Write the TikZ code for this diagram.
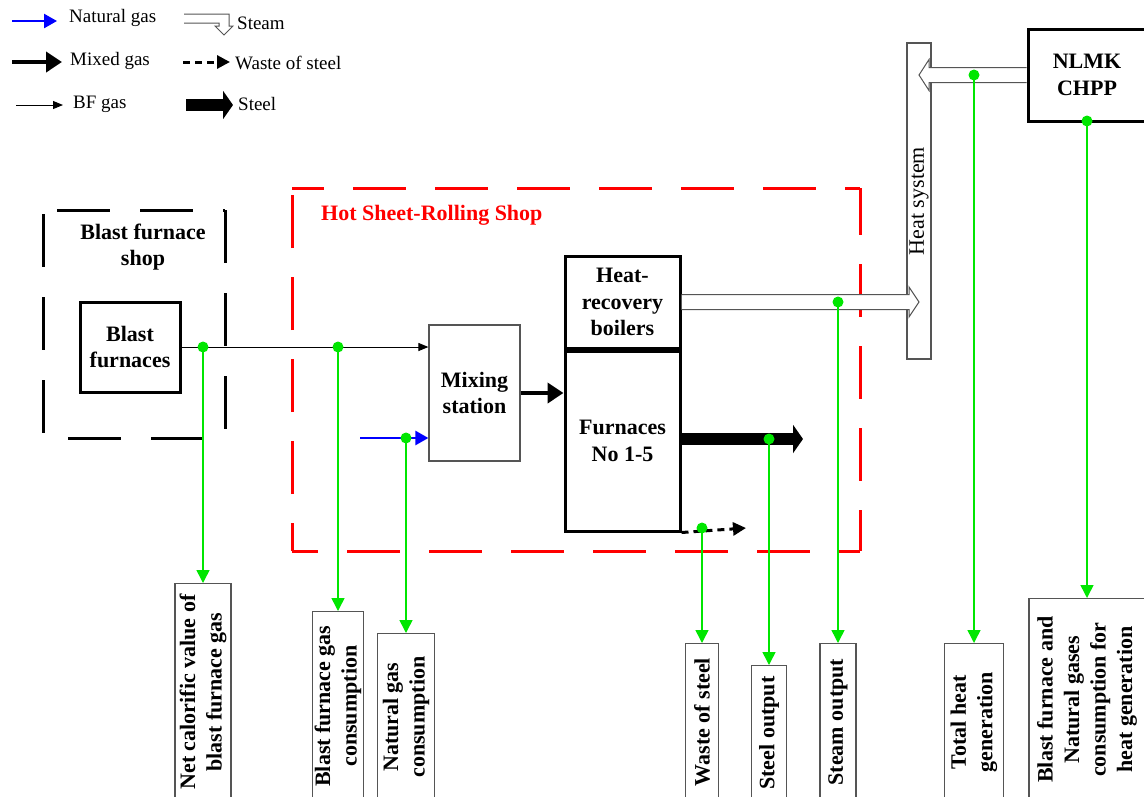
\documentclass[tikz,border=0pt]{standalone}
\usepackage{fontspec}
\setmainfont{Liberation Serif}
\usetikzlibrary{arrows.meta,calc,positioning}
\definecolor{natgas}{RGB}{0,0,255}
\definecolor{meter}{RGB}{0,230,0}
\definecolor{shopred}{RGB}{255,0,0}
\definecolor{frame}{RGB}{85,85,85}

\begin{document}
\begin{tikzpicture}[x=1pt,y=-1pt,
  unit/.style={draw,line width=3pt,align=center,inner sep=0pt,font=\bfseries\fontsize{22}{26.5}\selectfont},
  plainbox/.style={draw=frame,line width=1.2pt,align=center,inner sep=0pt,font=\bfseries\fontsize{22}{26.5}\selectfont},
  outbox/.style={plainbox,fill=white,rotate=90,anchor=east},
  legtext/.style={anchor=west,inner sep=0pt,font=\fontsize{19}{22}\selectfont},
  bfshopline/.style={line width=3pt,dash pattern=on 53pt off 30pt},
  hsrsline/.style={draw=shopred,line width=3pt,dash pattern=on 53pt off 29pt},
  bfgas/.style={line width=1pt,-{Triangle[length=10pt,width=8pt]}},
  ngarrow/.style={draw=natgas,line width=2.5pt,-{Triangle[length=13pt,width=14pt]}},
  mixarrow/.style={line width=4.5pt,-{Triangle[length=16pt,width=20pt]}},
  steelarrow/.style={line width=12pt,-{Triangle[length=10pt,width=28pt]}},
  wastearrow/.style={line width=3pt,dash pattern=on 7pt off 5pt,-{Triangle[length=13pt,width=13pt]}},
  steam/.style={draw=frame,line width=1pt,fill=white,line join=miter},
  probe/.style={draw=meter,line width=1.5pt,-{Triangle[length=13pt,width=13pt]}},
  dot/.style={circle,fill=meter,inner sep=0pt,minimum size=11pt}]
\useasboundingbox (0,0) rectangle (1144,796);
\clip (0,0) rectangle (1144,796);

% legend
\draw[ngarrow] (12,21) -- (57,21);
\node[legtext] (lng) at (69,18) {Natural gas};
\draw[mixarrow] (12,62) -- (62,62);
\node[legtext] (lmix) at (70,61) {Mixed gas};
\draw[bfgas] (16,105) -- (63,105);
\node[legtext] (lbf) at (73,104) {BF gas};
\draw[steam] (184,14) -- (229,14) -- (229,26) -- (233,26) -- (224,35) -- (215,26) -- (219,26) -- (219,23) -- (184,23);
\node[legtext] (lsteam) at (237,23) {Steam};
\draw[wastearrow] (183,62) -- (230,62);
\node[legtext] (lwaste) at (235,63) {Waste of steel};
\draw[steelarrow] (186,105) -- (233,105);
\node[legtext] (lsteel) at (238,104) {Steel};

% shops
\draw[bfshopline,dash phase=69pt] (43,210) -- (225,210);
\draw[bfshopline,dash phase=79pt] (43,210) -- (43,438);
\draw[bfshopline,dash phase=0pt] (225,210) -- (225,438);
\draw[bfshopline,dash phase=58pt] (43,438) -- (225,438);
\node[align=center,font=\bfseries\fontsize{22}{26.5}\selectfont] (bfshop) at (143,247) {Blast furnace\\shop};
\draw[hsrsline,dash phase=21pt] (292,188) -- (860,188);
\draw[hsrsline,dash phase=25pt] (292,551) -- (292,188);
\draw[hsrsline,dash phase=6pt] (860,188) -- (860,551);
\draw[hsrsline,dash phase=27pt] (292,551) -- (860,551);
\node[anchor=west,inner sep=0pt,text=shopred,font=\bfseries\fontsize{22}{26.5}\selectfont] (hsrs) at (321,215) {Hot Sheet-Rolling Shop};

% units
\node[unit,minimum width=100pt,minimum height=90pt] (bf) at (130,347) {Blast\\furnaces};
\node[plainbox,minimum width=91pt,minimum height=136pt] (mix) at (474.5,393) {Mixing\\station};
\node[unit,minimum width=115pt,minimum height=92pt] (hrb) at (622.5,302) {Heat-\\recovery\\boilers};
\node[unit,minimum width=115pt,minimum height=180pt,anchor=north] (furn) at (hrb.south) {Furnaces\\No 1-5};
\node[plainbox,font=\fontsize{22}{26.5}\selectfont,rotate=90,minimum width=316pt,minimum height=24pt] (hs) at (919,201) {Heat system};
\node[unit,minimum width=118pt,minimum height=92pt] (chpp) at (1087,75) {NLMK\\CHPP};

% flows
\coordinate (ngin) at (360,438);
\coordinate (steelend) at (803,439);
\coordinate (wasteend) at (746,528);
\draw[bfgas] (bf.east) -- (bf.east -| mix.west);
\draw[ngarrow] (ngin) -- (ngin -| mix.west);
\draw[mixarrow] (mix.east) -- (mix.east -| furn.west);
\draw[steelarrow] (furn.east |- steelend) -- (steelend);
\draw[wastearrow] (furn.south east) -- (wasteend);
\draw[steam] ($(hrb.east)+(0,-7.5)$) -- ($(hs.west |- hrb.east)+(-10,-7.5)$) -- ++(0,-7.5)
  -- (hs.west |- hrb.east) -- ++(-10,15) -- ++(0,-7.5) -- ($(hrb.east)+(0,7.5)$);
\draw[steam] ($(chpp.west)+(0,-7.5)$) -- ($(hs.east |- chpp.west)+(10,-7.5)$) -- ++(0,-8)
  -- (hs.east |- chpp.west) -- ++(10,15.5) -- ++(0,-8) -- ($(chpp.west)+(0,7.5)$);

% measured values
\node[outbox,minimum width=217pt,minimum height=56pt] (out1) at (203,583) {Net calorific value of\\blast furnace gas};
\node[outbox,minimum width=189pt,minimum height=51pt] (out2) at (338,611) {Blast furnace gas\\consumption};
\node[outbox,minimum width=167pt,minimum height=57pt] (out3) at (406,633) {Natural gas\\consumption};
\node[outbox,minimum width=157pt,minimum height=33pt] (out4) at (702,643) {Waste of steel};
\node[outbox,minimum width=135pt,minimum height=35pt] (out5) at (769,665) {Steel output};
\node[outbox,minimum width=157pt,minimum height=36pt] (out6) at (838,643) {Steam output};
\node[outbox,minimum width=157pt,minimum height=59pt] (out7) at (974,643) {Total heat\\generation};
\node[outbox,minimum width=202pt,minimum height=116pt] (out8) at (1087,598) {Blast furnace and\\Natural gases\\consumption for\\heat generation};

\node[dot] (d1) at (203,347) {};
\node[dot] (d2) at (338,347) {};
\node[dot] (d3) at (406,438) {};
\node[dot] (d4) at (702,528) {};
\node[dot] (d5) at (769,439) {};
\node[dot] (d6) at (838,302) {};
\node[dot] (d7) at (974,75) {};
\node[dot] (d8) at (1087,121) {};
\foreach \i in {1,...,8}
  \draw[probe] (d\i.center) -- (out\i.east);
\end{tikzpicture}
\end{document}
